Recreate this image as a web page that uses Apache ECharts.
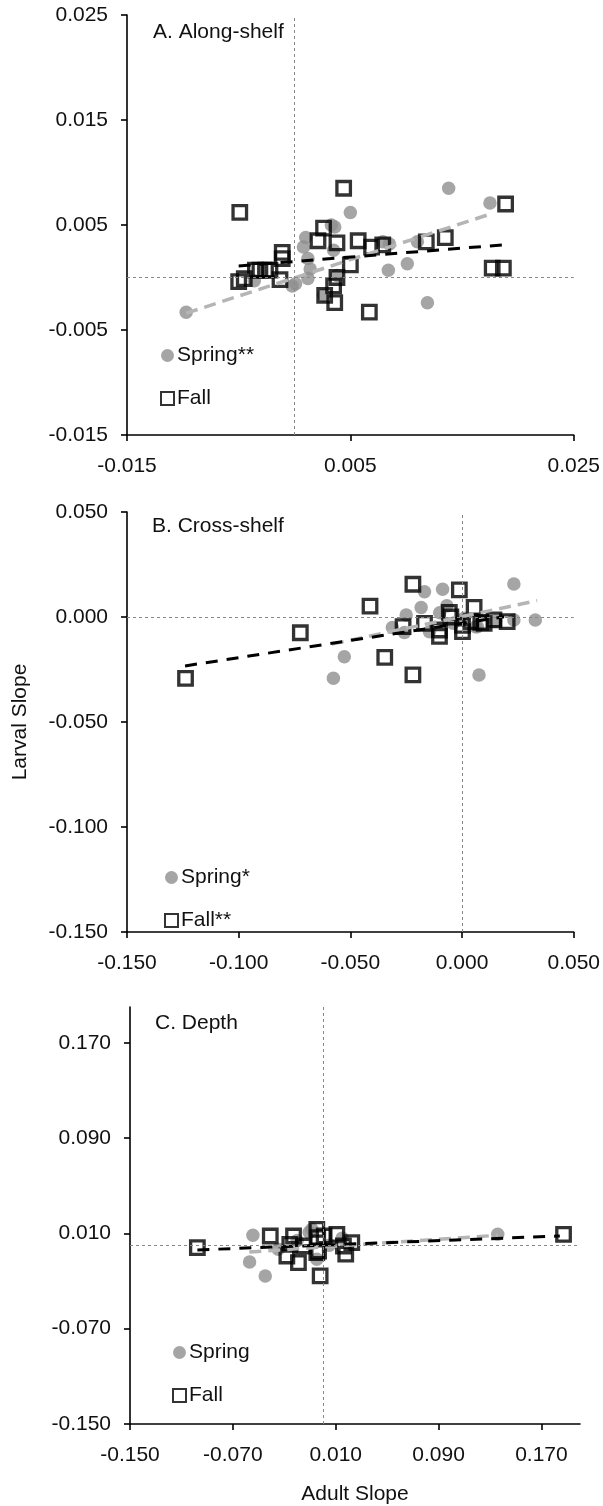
<!DOCTYPE html>
<html>
<head>
<meta charset="utf-8">
<script src="https://cdn.jsdelivr.net/npm/echarts@6/dist/echarts.min.js"></script>
<style>
  html, body { margin: 0; padding: 0; background: #fff; }
  #chart { width: 603px; height: 1506px; }
</style>
</head>
<body>
<div id="chart"></div>
<script>
// panel A: along-shelf
const alongSpring = [
  [-0.0097, -0.0033], [0.0138, 0.0085], [0.0175, 0.0071], [0.0050, 0.0062], [0.0036, 0.0048],
  [0.0010, 0.0038], [0.0008, 0.0029], [0.0012, 0.0018], [0.0014, 0.0008], [0.0012, -0.0001],
  [-0.0002, -0.0008], [0.0035, 0.0026], [0.0038, 0.0002], [0.0026, -0.0017], [0.0084, 0.0007],
  [0.0101, 0.0013], [0.0119, -0.0024], [0.0085, 0.0032], [0.0110, 0.0034], [-0.0036, -0.0003],
  [0.0033, 0.0050], [0.0001, -0.0006], [0.0079, 0.0034]
]
const alongFall = [
  [-0.0049, 0.0062], [0.0044, 0.0085], [0.0189, 0.0070], [0.0026, 0.0047], [0.0021, 0.0035],
  [0.0038, 0.0033], [0.0057, 0.0035], [0.0069, 0.0029], [0.0079, 0.0031], [0.0118, 0.0034],
  [0.0135, 0.0038], [0.0177, 0.0009], [0.0187, 0.0009], [0.0067, -0.0033], [0.0036, -0.0024],
  [0.0027, -0.0017], [0.0035, -0.0008], [0.0038, 0.0000], [0.0050, 0.0012], [-0.0011, 0.0024],
  [-0.0011, 0.0018], [-0.0013, -0.0002], [-0.0050, -0.0004], [-0.0045, -0.0001], [-0.0035, 0.0007],
  [-0.0031, 0.0007], [-0.0026, 0.0007], [-0.0022, 0.0007]
]
const alongSpringFit = [[-0.0097, -0.0034], [0.0177, 0.0061]]
const alongFallFit = [[-0.0050, 0.0011], [0.0186, 0.0031]]

// panel B: cross-shelf
const crossSpring = [
  [0.0232, 0.0157], [0.0328, -0.0014], [-0.0087, 0.0132], [-0.0168, 0.0120], [-0.0183, 0.0045],
  [-0.0250, 0.0010], [-0.0258, -0.0074], [-0.0312, -0.0050], [-0.0527, -0.0189], [-0.0576, -0.0292],
  [0.0076, -0.0276], [-0.0068, 0.0053], [0.0061, -0.0046], [-0.0146, -0.0070], [0.0232, -0.0014],
  [0.0010, -0.0006], [0.0069, -0.0046], [-0.0100, 0.0020], [0.0150, -0.0020], [-0.0040, -0.0030]
]
const crossFall = [
  [-0.1238, -0.0292], [-0.0724, -0.0075], [-0.0412, 0.0052], [-0.0346, -0.0192], [-0.0220, 0.0156],
  [-0.0220, -0.0276], [-0.0012, 0.0129], [0.0054, 0.0046], [-0.0057, 0.0022], [-0.0264, -0.0046],
  [-0.0168, -0.0030], [-0.0101, -0.0062], [-0.0101, -0.0092], [0.0002, -0.0070], [0.0143, -0.0014],
  [0.0202, -0.0022], [0.0099, -0.0030], [0.0039, -0.0022], [-0.0050, 0.0000], [0.0084, -0.0026],
  [0.0002, -0.0040]
]
const crossSpringFit = [[-0.0583, -0.0129], [0.0336, 0.0078]]
const crossFallFit = [[-0.1240, -0.0233], [0.0188, 0.0001]]

// panel C: depth
const depthSpring = [
  [-0.0544, 0.0084], [-0.0570, -0.0140], [-0.0448, -0.0257], [-0.0085, 0.0134], [-0.0047, -0.0117],
  [0.1360, 0.0092], [-0.0347, -0.0033], [-0.0106, 0.0110], [0.0150, 0.0060], [-0.0200, 0.0040],
  [0.0050, 0.0000]
]
const depthFall = [
  [-0.0976, -0.0019], [0.1872, 0.0092], [-0.0409, 0.0078], [-0.0021, -0.0257], [-0.0047, 0.0134],
  [-0.0228, 0.0078], [0.0109, 0.0092], [0.0160, -0.0006], [-0.0190, -0.0145], [-0.0280, -0.0090],
  [-0.0047, -0.0061], [-0.0150, -0.0006], [0.0225, 0.0023], [-0.0257, 0.0008], [0.0178, -0.0075],
  [0.0010, 0.0078], [-0.0033, -0.0048], [-0.0040, 0.0064]
]
const depthSpringFit = [[-0.0572, -0.0056], [0.1360, 0.0084]]
const depthFallFit = [[-0.0976, -0.0039], [0.1843, 0.0078]]

// tick values
const alongXTicks = [-0.015, 0.005, 0.025]
const alongYTicks = [-0.015, -0.005, 0.005, 0.015, 0.025]
const crossTicks = [-0.15, -0.10, -0.05, 0.00, 0.05]
const depthTicks = [-0.15, -0.07, 0.01, 0.09, 0.17]

const panelTitles = ['A. Along-shelf', 'B. Cross-shelf', 'C. Depth']
const legendNames = [['Spring**', 'Fall'], ['Spring*', 'Fall**'], ['Spring', 'Fall']]

const font = 'Liberation Sans, Arial, sans-serif'
const textColor = '#111'

function axis(gridIndex, min, max, ticks, margin, extra) {
  return Object.assign({
    type: 'value',
    gridIndex: gridIndex,
    min: min,
    max: max,
    splitLine: { show: false },
    axisLine: { show: true, onZero: false, lineStyle: { color: '#000', width: 1.6 } },
    axisTick: { show: true, length: 6, customValues: ticks, lineStyle: { color: '#000', width: 1.6 } },
    axisLabel: {
      customValues: ticks,
      formatter: function (v) { return v.toFixed(3) },
      fontSize: 21,
      color: textColor,
      fontFamily: font,
      margin: margin,
    },
    nameTextStyle: { fontSize: 21, color: textColor, fontFamily: font },
  }, extra || {})
}

const zeroLines = {
  silent: true,
  symbol: 'none',
  label: { show: false },
  lineStyle: { color: '#888', type: [3, 3], width: 1 },
  data: [{ xAxis: 0 }, { yAxis: 0 }],
}

function springSeries(name, idx, data) {
  return {
    name: name, type: 'scatter', xAxisIndex: idx, yAxisIndex: idx, data: data,
    symbol: 'circle', symbolSize: 13.5,
    itemStyle: { color: '#8e8e8e' },
    markLine: zeroLines,
  }
}
function fallSeries(name, idx, data) {
  return {
    name: name, type: 'scatter', xAxisIndex: idx, yAxisIndex: idx, data: data,
    symbol: 'rect', symbolSize: 13.5,
    itemStyle: { color: 'rgba(255,255,255,0)', borderColor: '#000', borderWidth: 3.3 },
  }
}
function fitSeries(idx, data, color, width, dash) {
  return {
    type: 'line', xAxisIndex: idx, yAxisIndex: idx, data: data,
    symbol: 'none', silent: true,
    lineStyle: { color: color, width: width, type: dash },
  }
}

const grids = [
  { left: 127, top: 15, width: 450, height: 420 },
  { left: 127, top: 512, width: 450, height: 420 },
  { left: 130, top: 1007, width: 450, height: 418 },
]
const titleTops = [22, 516, 1013]
const titleLefts = [153, 152, 155]
const legendPos = [[160, 345], [164, 867], [172, 1342]]

var myChart = echarts.init(document.getElementById('chart'), null, { renderer: 'canvas' })
var option = {
  animation: false,
  backgroundColor: '#fff',
  grid: grids,
  title: panelTitles.map(function (t, i) {
    return {
      text: t, left: titleLefts[i], top: titleTops[i], padding: 0,
      textStyle: { fontSize: 21, fontWeight: 'normal', color: textColor, fontFamily: font },
    }
  }),
  legend: legendNames.map(function (names, i) {
    return {
      data: [{ name: names[0], icon: 'circle' }, { name: names[1], icon: 'rect' }],
      orient: 'vertical', left: legendPos[i][0], top: legendPos[i][1],
      padding: 0, itemGap: 22, itemWidth: 13, itemHeight: 13, selectedMode: false,
      textStyle: { fontSize: 21, color: textColor, fontFamily: font, padding: [0, 0, 0, -2] },
    }
  }),
  xAxis: [
    axis(0, -0.015, 0.025, alongXTicks, 21),
    axis(1, -0.15, 0.05, crossTicks, 21),
    axis(2, -0.15, 0.2, depthTicks, 21, {
      name: 'Adult Slope', nameLocation: 'middle', nameGap: 60,
    }),
  ],
  yAxis: [
    axis(0, -0.015, 0.025, alongYTicks, 19),
    axis(1, -0.15, 0.05, crossTicks, 19, {
      name: 'Larval Slope', nameLocation: 'middle', nameGap: 96,
    }),
    axis(2, -0.15, 0.2, depthTicks, 19),
  ],
  series: [
    springSeries(legendNames[0][0], 0, alongSpring),
    fallSeries(legendNames[0][1], 0, alongFall),
    fitSeries(0, alongSpringFit, '#b5b5b5', 3.5, [12, 7]),
    fitSeries(0, alongFallFit, '#000', 3, [12, 9]),

    springSeries(legendNames[1][0], 1, crossSpring),
    fallSeries(legendNames[1][1], 1, crossFall),
    fitSeries(1, crossSpringFit, '#b5b5b5', 3.5, [12, 7]),
    fitSeries(1, crossFallFit, '#000', 3, [12, 9]),

    springSeries(legendNames[2][0], 2, depthSpring),
    fallSeries(legendNames[2][1], 2, depthFall),
    fitSeries(2, depthSpringFit, '#b5b5b5', 3.5, [12, 7]),
    fitSeries(2, depthFallFit, '#000', 3, [12, 9]),
  ],
}
myChart.setOption(option)
</script>
</body>
</html>
